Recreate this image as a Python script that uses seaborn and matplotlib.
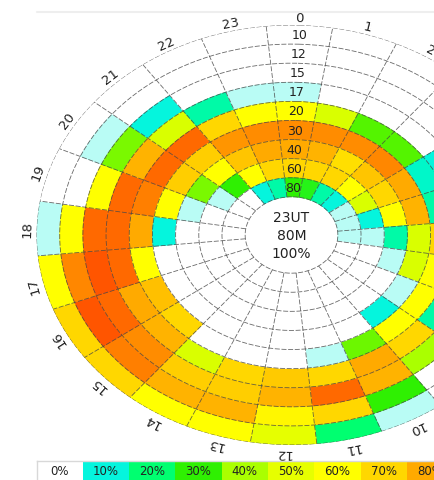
import numpy as np
import matplotlib.pyplot as plt
import seaborn as sns
from matplotlib.lines import Line2D

# hours around the dial, rings from the outside in
hours = list(range(24))
ring_labels = ["10", "12", "15", "17", "20", "30", "40", "60", "80"]

# percent per hour (0..23) for each ring
ring_10 = [0, 0, 0, 0, 0, 0, 3, 10, 3, 0, 3, 20, 50, 60, 60, 70, 70, 60, 3, 0, 0, 0, 0, 0]
ring_12 = [0, 0, 0, 0, 0, 3, 10, 40, 20, 0, 30, 70, 62, 78, 78, 90, 100, 88, 60, 0, 3, 0, 0, 0]
ring_15 = [0, 0, 0, 0, 3, 10, 40, 60, 50, 40, 78, 95, 78, 72, 72, 87, 95, 100, 95, 60, 36, 10, 0, 0]
ring_17 = [3, 0, 0, 0, 10, 30, 60, 70, 15, 70, 80, 70, 73, 70, 48, 78, 80, 95, 95, 95, 78, 48, 15, 3]
ring_20 = [60, 48, 33, 33, 12, 15, 70, 60, 60, 60, 35, 3, 0, 0, 0, 70, 75, 60, 80, 90, 95, 95, 70, 60]
ring_30 = [87, 87, 87, 88, 80, 78, 48, 48, 3, 10, 0, 0, 0, 0, 0, 0, 0, 0, 10, 60, 72, 72, 85, 87]
ring_40 = [80, 78, 68, 74, 70, 60, 15, 3, 0, 0, 0, 0, 0, 0, 0, 0, 0, 0, 0, 3, 36, 60, 74, 80]
ring_60 = [70, 70, 70, 60, 48, 10, 3, 0, 0, 0, 0, 0, 0, 0, 0, 0, 0, 0, 0, 0, 3, 30, 60, 70]
ring_80 = [30, 28, 15, 10, 3, 3, 3, 0, 0, 0, 0, 0, 0, 0, 0, 0, 0, 0, 0, 0, 0, 0, 10, 15]
rings = [ring_10, ring_12, ring_15, ring_17, ring_20, ring_30, ring_40, ring_60, ring_80]

legend_values = [0, 10, 20, 30, 40, 50, 60, 70, 80, 90, 100]
legend_labels = [f"{v}%" for v in legend_values]
center_text = ["23UT", "80M", "100%"]
scale_colors = ["#ffffff", "#00f5dc", "#00ff70", "#30f000", "#aaff00", "#e6ff00",
                "#ffff00", "#ffd800", "#ffaa00", "#ff8000", "#ff5500"]

sns.set_style("white")
plt.rcParams["font.family"] = ["DejaVu Sans"]
cmap = sns.blend_palette(scale_colors, as_cmap=True)

W, H = 434, 481
cx, cy = 291.5, 236
a, b = 255, 210  # horizontal / vertical radius in px (dial is stretched)
rot = np.deg2rad(1.8)
hole = 2
rmax = hole + len(rings)

fig = plt.figure(figsize=(W / 100, H / 100), dpi=100)
ax = fig.add_axes([(cx - a) / W, (H - cy - b) / H, 2 * a / W, 2 * b / H], projection="polar")
ax.set_aspect("auto")
ax.set_theta_zero_location("N")
ax.set_theta_direction(-1)
ax.set_theta_offset(np.pi / 2 - rot)
ax.set_ylim(0, rmax)
ax.grid(False)
ax.set_xticks([])
ax.set_yticks([])
ax.spines["polar"].set_visible(False)

step = 2 * np.pi / len(hours)
theta = np.array(hours) * step
for i, vals in enumerate(rings):
    cols = cmap(np.array(vals) / 100)
    ax.bar(theta, np.ones(len(hours)), width=step, bottom=rmax - 1 - i,
           color=cols, edgecolor=cols, linewidth=0.4, align="center")

# grid
grid_kw = dict(color="#444444", lw=0.6, ls=(0, (6, 2)), alpha=0.8)
circ = np.linspace(0, 2 * np.pi, 500)
for r in range(hole, rmax + 1):
    ax.plot(circ, np.full(circ.size, r), **grid_kw)
for h in hours:
    tb = (h - 0.5) * step
    ax.plot([tb, tb], [hole, rmax], **grid_kw)

# ring labels on the 0 sector
for i, lab in enumerate(ring_labels):
    ax.text(0, rmax - 0.5 - i, lab, ha="center", va="center", fontsize=9, color="#222222")

# hour labels, rotated along the rim
for h in hours:
    t = h * step
    d = t + rot
    ang = np.degrees(np.arctan2(-b * np.sin(d), a * np.cos(d)))
    ax.text(t, rmax + 0.4, str(h), rotation=ang, rotation_mode="anchor",
            ha="center", va="center", fontsize=9.5, color="#222222")

ax.text(0, 0, "\n".join(center_text), ha="center", va="center", fontsize=10,
        linespacing=1.4, color="#222222")

# colour legend along the bottom
cell = 46.3
lax = fig.add_axes([(cx - a) / W, 0, cell * len(legend_values) / W, 19 / H])
sns.heatmap(np.array([legend_values]), cmap=cmap, vmin=0, vmax=100,
            annot=np.array([legend_labels]), fmt="", cbar=False,
            xticklabels=False, yticklabels=False, ax=lax,
            annot_kws=dict(fontsize=8.5, color="#222222"))
for s in ["top", "left"]:
    lax.spines[s].set_visible(True)
    lax.spines[s].set_color("#d8d8d8")
    lax.spines[s].set_linewidth(1)

fig.add_artist(Line2D([(cx - a) / W, 1], [1 - 13 / H, 1 - 13 / H], color="#eeeeee", lw=1.5))

plt.savefig("out.png", dpi=100)
